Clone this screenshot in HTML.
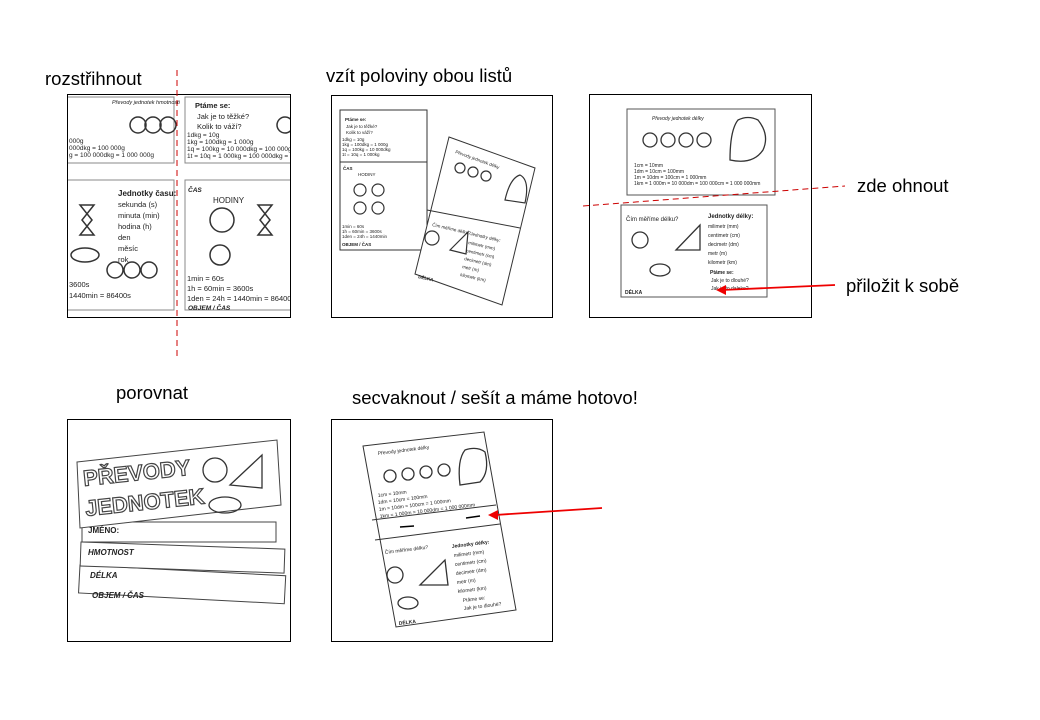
<!DOCTYPE html>
<html><head><meta charset="utf-8"><style>
html,body{margin:0;padding:0;background:#fff;}
svg{display:block;font-family:"Liberation Sans",sans-serif;}
</style></head><body>
<svg width="1040" height="720" viewBox="0 0 1040 720" xmlns="http://www.w3.org/2000/svg">
<defs><clipPath id="c1"><rect x="68" y="95" width="222" height="222"/></clipPath></defs>
<g font-size="18.5" fill="#000">
<text x="45" y="85">rozstřihnout</text>
<text x="326" y="82">vzít  poloviny obou listů</text>
<text x="857" y="192">zde ohnout</text>
<text x="846" y="292">přiložit k sobě</text>
<text x="116" y="399">porovnat</text>
<text x="352" y="404">secvaknout / sešít a máme hotovo!</text>
</g>
<g fill="none" stroke="#000" stroke-width="1">
<rect x="67.5" y="94.5" width="223" height="223"/>
<rect x="331.5" y="95.5" width="221" height="222"/>
<rect x="589.5" y="94.5" width="222" height="223"/>
<rect x="67.5" y="419.5" width="223" height="222"/>
<rect x="331.5" y="419.5" width="221" height="222"/>
</g>
<!-- panel 1 -->
<g clip-path="url(#c1)">
<g stroke="#888" fill="none">
<rect x="60" y="97" width="114" height="66"/><rect x="60" y="180" width="114" height="130"/>
<rect x="185" y="97" width="115" height="66"/><rect x="185" y="180" width="115" height="130"/>
</g>
<g font-size="6.5" fill="#222">
<text x="112" y="104" font-style="italic" font-size="5.5">Převody jednotek hmotnosti</text>
<text x="69" y="143">000g</text><text x="69" y="150">000dkg = 100 000g</text><text x="69" y="157">g = 100 000dkg = 1 000 000g</text>
<text x="118" y="196" font-weight="bold" font-size="8">Jednotky času:</text>
<text x="118" y="207" font-size="7.5">sekunda (s)</text><text x="118" y="218" font-size="7.5">minuta (min)</text><text x="118" y="229" font-size="7.5">hodina (h)</text><text x="118" y="240" font-size="7.5">den</text><text x="118" y="251" font-size="7.5">měsíc</text><text x="118" y="262" font-size="7.5">rok</text>
<text x="69" y="287" font-size="7.5">3600s</text><text x="69" y="298" font-size="7.5">1440min = 86400s</text>
<text x="195" y="108" font-weight="bold" font-size="7.5">Ptáme se:</text>
<text x="197" y="119" font-size="7.5">Jak je to těžké?</text><text x="197" y="129" font-size="7.5">Kolik to váží?</text>
<text x="187" y="137">1dkg = 10g</text><text x="187" y="144">1kg = 100dkg = 1 000g</text><text x="187" y="151">1q = 100kg = 10 000dkg = 100 000g</text><text x="187" y="158">1t = 10q = 1 000kg = 100 000dkg = 1 00</text>
<text x="188" y="192" font-weight="bold" font-style="italic">ČAS</text>
<text x="213" y="203" font-size="8">HODINY</text>
<text x="187" y="281" font-size="7.5">1min = 60s</text><text x="187" y="291" font-size="7.5">1h = 60min = 3600s</text><text x="187" y="301" font-size="7.5">1den = 24h = 1440min = 86400s</text>
<text x="188" y="310" font-weight="bold" font-style="italic">OBJEM / ČAS</text>
</g>
<g fill="none" stroke="#333" stroke-width="1.5">
<circle cx="138" cy="125" r="8"/><circle cx="153" cy="125" r="8"/><circle cx="168" cy="125" r="8"/>
<circle cx="285" cy="125" r="8"/>
<circle cx="222" cy="220" r="12"/><circle cx="220" cy="255" r="10"/><path d="M258 205 h14 l-12 15 12 15 h-14 l12 -15z"/>
<path d="M80 205 h14 l-12 15 12 15 h-14 l12 -15z"/><ellipse cx="85" cy="255" rx="14" ry="7"/>
<circle cx="115" cy="270" r="8"/><circle cx="132" cy="270" r="8"/><circle cx="149" cy="270" r="8"/>
</g>
</g>
<line x1="177" y1="70" x2="177" y2="356" stroke="#c00" stroke-dasharray="6,4"/>
<!-- panel 2 -->
<g stroke="#333" fill="#fff">
<rect x="340" y="110" width="87" height="140"/>
<polygon points="449,137 535,168 502,305 415,274"/>
</g>
<g font-size="4.5" fill="#222">
<text x="345" y="121" font-weight="bold">Ptáme se:</text><text x="346" y="128">Jak je to těžké?</text><text x="346" y="134">Kolik to váží?</text>
<text x="342" y="141">1dkg = 10g</text><text x="342" y="146">1kg = 100dkg = 1 000g</text><text x="342" y="151">1q = 100kg = 10 000dkg</text><text x="342" y="156">1t = 10q = 1 000kg</text>
<text x="343" y="170" font-weight="bold">ČAS</text><text x="358" y="176">HODINY</text>
<text x="342" y="228">1min = 60s</text><text x="342" y="233">1h = 60min = 3600s</text><text x="342" y="238">1den = 24h = 1440min</text><text x="342" y="246" font-weight="bold">OBJEM / ČAS</text>
</g>
<g fill="none" stroke="#333" stroke-width="1.2">
<circle cx="360" cy="190" r="6"/><circle cx="378" cy="190" r="6"/><circle cx="360" cy="208" r="6"/><circle cx="378" cy="208" r="6"/>
<circle cx="460" cy="168" r="5"/><circle cx="473" cy="172" r="5"/><circle cx="486" cy="176" r="5"/>
<path d="M505 200 q5 -22 15 -25 q10 5 5 28z"/>
<circle cx="432" cy="238" r="7"/><polygon points="450,250 468,232 466,254"/>
</g>
<g font-size="4.5" fill="#222">
<text x="455" y="153" transform="rotate(20 455 153)">Převody jednotek délky</text>
<text x="432" y="226" transform="rotate(13 432 226)">Čím měříme délku?</text>
<text x="470" y="235" transform="rotate(13 470 235)">Jednotky délky:</text>
<text x="468" y="244" transform="rotate(13 468 244)">milimetr (mm)</text>
<text x="466" y="252" transform="rotate(13 466 252)">centimetr (cm)</text>
<text x="464" y="260" transform="rotate(13 464 260)">decimetr (dm)</text>
<text x="462" y="268" transform="rotate(13 462 268)">metr (m)</text>
<text x="460" y="276" transform="rotate(13 460 276)">kilometr (km)</text>
<text x="418" y="278" font-weight="bold" transform="rotate(13 418 278)">DÉLKA</text>
</g>
<line x1="340" y1="162" x2="427" y2="162" stroke="#333"/>
<line x1="427" y1="210" x2="520" y2="228" stroke="#333"/>
<!-- panel 3 -->
<g stroke="#555" fill="none">
<rect x="627" y="109" width="148" height="86"/>
<rect x="621" y="205" width="146" height="92"/>
</g>
<line x1="583" y1="206" x2="845" y2="186" stroke="#c00" stroke-dasharray="6,4"/>
<g font-size="5" fill="#222">
<text x="652" y="120" font-style="italic">Převody jednotek délky</text>
<text x="634" y="167">1cm = 10mm</text><text x="634" y="173">1dm = 10cm = 100mm</text><text x="634" y="179">1m = 10dm = 100cm = 1 000mm</text><text x="634" y="185">1km = 1 000m = 10 000dm = 100 000cm = 1 000 000mm</text>
<text x="626" y="221" font-size="6">Čím měříme délku?</text>
<text x="708" y="218" font-weight="bold" font-size="6">Jednotky délky:</text>
<text x="708" y="228">milimetr (mm)</text><text x="708" y="237">centimetr (cm)</text><text x="708" y="246">decimetr (dm)</text><text x="708" y="255">metr (m)</text><text x="708" y="264">kilometr (km)</text>
<text x="710" y="274" font-weight="bold">Ptáme se:</text><text x="711" y="282">Jak je to dlouhé?</text><text x="711" y="290">Jak je to daleko?</text>
<text x="625" y="294" font-weight="bold">DÉLKA</text>
</g>
<g fill="none" stroke="#333" stroke-width="1.3">
<circle cx="650" cy="140" r="7"/><circle cx="668" cy="140" r="7"/><circle cx="686" cy="140" r="7"/><circle cx="704" cy="140" r="7"/>
<path d="M730 160 q0 -30 8 -40 q10 -5 20 0 q12 15 5 30 q-10 15 -33 10z"/>
<circle cx="640" cy="240" r="8"/><polygon points="676,250 700,225 700,250"/><ellipse cx="660" cy="270" rx="10" ry="6"/>
</g>
<line x1="835" y1="285" x2="722" y2="290" stroke="#e00" stroke-width="1.8"/>
<polygon points="716,290 726,285 726,295" fill="#e00"/>
<!-- panel 4 -->
<g stroke="#444" fill="#fff">
<rect x="80" y="565" width="206" height="28" transform="rotate(3 80 565)"/>
<rect x="81" y="542" width="204" height="24" transform="rotate(2 81 542)"/>
<rect x="82" y="522" width="194" height="20"/>
<polygon points="77,462 277,440 281,505 80,528"/>
</g>
<g fill="#fff" stroke="#444" stroke-width="1.2" font-size="22" font-weight="bold">
<text x="84" y="486" transform="rotate(-6 84 486)">PŘEVODY</text>
<text x="86" y="516" transform="rotate(-6 86 516)">JEDNOTEK</text>
</g>
<g font-size="8" font-weight="bold" font-style="italic" fill="#222">
<text x="88" y="533" font-style="normal">JMÉNO:</text>
<text x="88" y="555">HMOTNOST</text><text x="90" y="578">DÉLKA</text><text x="92" y="598">OBJEM / ČAS</text>
</g>
<g fill="none" stroke="#333" stroke-width="1.3">
<circle cx="215" cy="470" r="12"/><polygon points="230,485 262,455 262,488"/><ellipse cx="225" cy="505" rx="16" ry="8"/>
</g>
<!-- panel 5 -->
<g stroke="#333" fill="#fff">
<polygon points="363,446 484,432 516,610 396,627"/>
</g>
<line x1="372" y1="520" x2="496" y2="505" stroke="#333"/>
<line x1="375" y1="540" x2="500" y2="524" stroke="#333"/>
<line x1="400" y1="527" x2="414" y2="526" stroke="#000" stroke-width="1.5"/>
<line x1="466" y1="518" x2="480" y2="516" stroke="#000" stroke-width="1.5"/>
<g font-size="5" fill="#222">
<text x="378" y="455" transform="rotate(-7 378 455)">Převody jednotek délky</text>
<text x="378" y="497" transform="rotate(-7 378 497)">1cm = 10mm</text>
<text x="378" y="504" transform="rotate(-7 378 504)">1dm = 10cm = 100mm</text>
<text x="379" y="511" transform="rotate(-7 379 511)">1m = 10dm = 100cm = 1 000mm</text>
<text x="380" y="518" transform="rotate(-7 380 518)">1km = 1 000m = 10 000dm = 1 000 000mm</text>
<text x="385" y="554" transform="rotate(-7 385 554)">Čím měříme délku?</text>
<text x="452" y="548" transform="rotate(-7 452 548)" font-weight="bold">Jednotky délky:</text>
<text x="454" y="557" transform="rotate(-7 454 557)">milimetr (mm)</text>
<text x="455" y="566" transform="rotate(-7 455 566)">centimetr (cm)</text>
<text x="456" y="575" transform="rotate(-7 456 575)">decimetr (dm)</text>
<text x="457" y="584" transform="rotate(-7 457 584)">metr (m)</text>
<text x="458" y="593" transform="rotate(-7 458 593)">kilometr (km)</text>
<text x="463" y="602" transform="rotate(-7 463 602)">Ptáme se:</text>
<text x="464" y="610" transform="rotate(-7 464 610)">Jak je to dlouhé?</text>
<text x="399" y="625" font-weight="bold" transform="rotate(-7 399 625)">DÉLKA</text>
</g>
<g fill="none" stroke="#333" stroke-width="1.3">
<circle cx="390" cy="476" r="6"/><circle cx="408" cy="474" r="6"/><circle cx="426" cy="472" r="6"/><circle cx="444" cy="470" r="6"/>
<path d="M460 485 q-3 -25 5 -35 q12 -4 20 2 q5 20 -5 30z"/>
<circle cx="395" cy="575" r="8"/><polygon points="420,585 445,560 448,585"/><ellipse cx="408" cy="603" rx="10" ry="6"/>
</g>
<line x1="602" y1="508" x2="495" y2="515" stroke="#e00" stroke-width="1.8"/>
<polygon points="488,515 498,510 498,520" fill="#e00"/>
</svg>
</body></html>
